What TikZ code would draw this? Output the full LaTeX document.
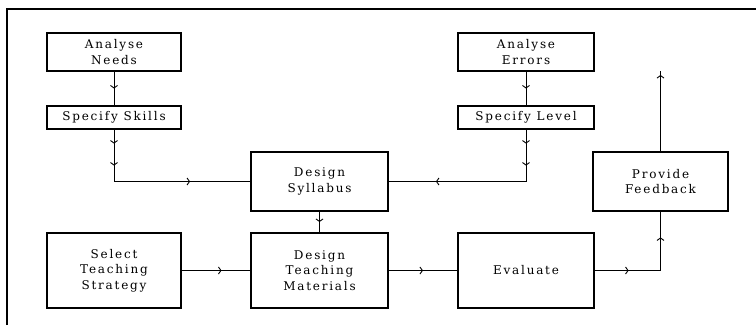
\documentclass[tikz,border=0pt]{standalone}
\usepackage{fontspec}
\setmainfont{DejaVu Serif}[LetterSpace=15]
\usetikzlibrary{arrows.meta,decorations.markings}

\tikzset{
	barb/.tip={Straight Barb[length=2.5pt,width=7pt]},
	arrowmark/.style={postaction={decorate,decoration={markings,mark=at position #1 with {\arrow{barb}}}}}
}

\begin{document}
\begin{tikzpicture}[
		x=1pt, y=-1pt,
		every node/.style={rectangle, draw, line width=1.2pt, align=center, inner sep=0pt,
			font=\fontsize{12}{15.5}\selectfont},
		line/.style={line width=0.9pt}
	]
  \useasboundingbox (0,0) rectangle (756,325);
  \draw[line width=1.2pt] (7,325) -- (7,9) -- (756,9);
  \node (needs) [minimum width=134pt, minimum height=38pt] at (114, 52) {Analyse\\Needs};
  \node (skills) [minimum width=134pt, minimum height=23pt] at (114, 117.5) {Specify Skills};
  \node (errors) [minimum width=136pt, minimum height=38pt] at (526, 52) {Analyse\\Errors};
  \node (level) [minimum width=136pt, minimum height=23pt] at (526, 117.5) {Specify Level};
  \node (syllabus) [minimum width=137pt, minimum height=59pt] at (319.5, 181.5) {Design\\Syllabus};
  \node (strategy) [minimum width=134pt, minimum height=75pt] at (114, 270.5) {Select\\Teaching\\Strategy};
  \node (materials) [minimum width=137pt, minimum height=75pt] at (319.5, 270.5) {Design\\Teaching\\Materials};
  \node (evaluate) [minimum width=136pt, minimum height=75pt] at (526, 270.5) {Evaluate};
  \node (feedback) [minimum width=135pt, minimum height=59pt] at (660.5, 181.5) {Provide\\Feedback};
  \coordinate (top) at (660.5, 71);
  \draw[line, arrowmark=0.5] (needs) -- (skills);
  \draw[line, arrowmark=14pt, arrowmark=36pt, arrowmark=128pt] (skills) |- (syllabus);
  \draw[line, arrowmark=14pt, arrowmark=36pt, arrowmark=142pt] (level) |- (syllabus);
  \draw[line, arrowmark=0.5] (errors) -- (level);
  \draw[line, arrowmark=0.5] (syllabus) -- (materials);
  \draw[line, arrowmark=0.58] (strategy) -- (materials);
  \draw[line, arrowmark=0.5] (materials) -- (evaluate);
  \draw[line, arrowmark=34pt, arrowmark=99pt] (evaluate) -| (feedback);
  \draw[line, arrowmark=0.95] (feedback) -- (top);
\end{tikzpicture}
\end{document}
